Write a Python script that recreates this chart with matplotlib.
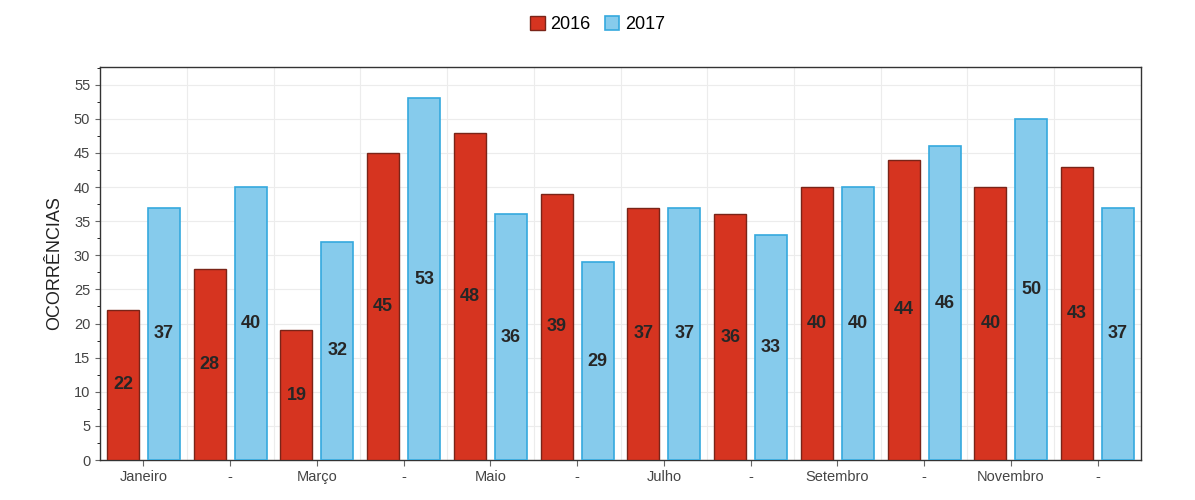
import numpy as np
import matplotlib
matplotlib.use("Agg")
import matplotlib.pyplot as plt
from matplotlib.ticker import MultipleLocator

# dados
meses = ["Janeiro", "-", "Março", "-", "Maio", "-", "Julho", "-",
         "Setembro", "-", "Novembro", "-"]
v2016 = [22, 28, 19, 45, 48, 39, 37, 36, 40, 44, 40, 43]
v2017 = [37, 40, 32, 53, 36, 29, 37, 33, 40, 46, 50, 37]

plt.rcParams["font.family"] = ["Liberation Sans", "DejaVu Sans"]

fig = plt.figure(figsize=(11.95, 5.0), dpi=100)
ax = fig.add_axes([0.0837, 0.08, 0.8711, 0.786])

x = np.arange(len(meses))
w = 0.37
off = 0.236

b1 = ax.bar(x - off, v2016, w, color="#d63420", edgecolor="#7a2418",
            linewidth=1.0, label="2016", zorder=3)
b2 = ax.bar(x + off, v2017, w, color="#86cbec", edgecolor="#35a9de",
            linewidth=1.2, label="2017", zorder=3)

for bars, vals in ((b1, v2016), (b2, v2017)):
    for b, v in zip(bars, vals):
        ax.text(b.get_x() + b.get_width() / 2, v / 2, str(v),
                ha="center", va="center", fontsize=13, fontweight="bold",
                color="#262626", zorder=4)

ax.set_xlim(-0.5, len(meses) - 0.5)
ax.set_ylim(0, 57.6)
ax.set_xticks(x)
ax.set_xticklabels(meses, fontsize=10.5, color="#444444")
ax.yaxis.set_major_locator(MultipleLocator(5))
ax.yaxis.set_minor_locator(MultipleLocator(2.5))
ax.tick_params(axis="y", labelsize=10.5, labelcolor="#444444", color="#666666")
ax.tick_params(axis="x", color="#666666", length=4)

# grade
ax.set_xticks(np.arange(0.5, len(meses) - 0.5), minor=True)
ax.tick_params(axis="x", which="minor", length=0)
ax.grid(True, axis="x", which="minor", color="#ececec", linewidth=0.8, zorder=0)
ax.grid(True, axis="y", which="major", color="#ececec", linewidth=0.8, zorder=0)

for s in ax.spines.values():
    s.set_color("#333333")
    s.set_linewidth(1.0)

ax.set_ylabel("OCORRÊNCIAS", fontsize=13, color="#222222", labelpad=8)

fig.legend(loc="upper center", bbox_to_anchor=(0.5, 1.0), ncol=2, frameon=False,
           fontsize=13, handlelength=0.8, handleheight=0.8, handletextpad=0.3,
           columnspacing=0.8)

fig.savefig("out.png", dpi=100)
